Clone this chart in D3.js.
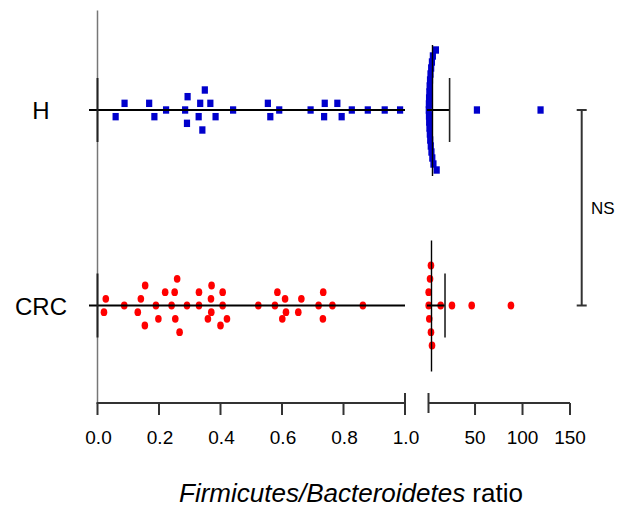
<!DOCTYPE html>
<html><head><meta charset="utf-8">
<script src="https://cdn.jsdelivr.net/npm/d3@7"></script>
<style>body{margin:0;background:#fff} text{font-family:Arial,"Liberation Sans",sans-serif;fill:#000}</style>
</head><body><svg id="c" width="632" height="515"></svg>
<script>
// ---- data ----
const categories = ["H", "CRC"];
// values in subject (data) order
const hValues = [0.088, 0.059, 0.168, 0.185, 0.223, 0.285, 0.293, 0.291, 0.334, 0.329, 0.349, 0.341,
  0.367, 0.384, 0.441, 0.554, 0.562, 0.591, 0.693, 0.739, 0.737, 0.780, 0.794, 0.827, 0.879, 0.934, 0.984,
  1.3, 1.4, 1.5, 1.6, 1.7, 1.9, 2.0, 2.2, 2.4, 2.6, 2.8, 3.1, 3.4, 3.8, 4.1, 4.6, 5.0, 5.6, 6.2, 8.8, 9.6,
  52, 119];
const crcValues = [0.027, 0.021, 0.087, 0.141, 0.131, 0.155, 0.154, 0.190, 0.220, 0.198,
  0.241, 0.251, 0.253, 0.259, 0.267, 0.291, 0.330, 0.330, 0.359, 0.369, 0.370, 0.371, 0.400,
  0.407, 0.407, 0.421, 0.523, 0.577, 0.585, 0.601, 0.610, 0.613, 0.663, 0.653, 0.719, 0.734, 0.733,
  0.764, 0.863,
  1.2, 1.2, 1.8, 2.6, 3.6, 3.6, 4.7, 13.8, 25.7, 46.5, 87.8];
const leftTicks = [0, 0.2, 0.4, 0.6, 0.8, 1.0];
const leftTickLabels = ["0.0", "0.2", "0.4", "0.6", "0.8", "1.0"];
const rightTicks = [50, 100, 150];
const rightTickLabels = ["50", "100", "150"];
const leftDomain = [0, 1];
const rightDomain = [1, 150];
const sigLabel = "NS";
const titleItalic = "Firmicutes/Bacteroidetes";
const titleRest = " ratio";

// ---- layout ----
const svg = d3.select("#c");
const xL = d3.scaleLinear().domain(leftDomain).range([97.5, 405]);
const xR = d3.scaleLinear().domain(rightDomain).range([428.5, 570]);
const y = d3.scalePoint().domain(categories).range([110, 305.5]);
const axisY = 403;
const groups = [
  {cat: "H", vals: hValues, color: "#0000CC", shape: "square"},
  {cat: "CRC", vals: crcValues, color: "#FF0000", shape: "circle"}
];

function swarm(vals, scale, cy) {
  const idx = vals.map((v, i) => i).sort((a, b) => vals[a] - vals[b] || a - b);
  const clusters = []; let cur = null;
  idx.forEach(i => {
    const px = scale(vals[i]);
    if (cur && px - cur.start < 9.8) cur.items.push(i);
    else { cur = {start: px, items: [i]}; clusters.push(cur); }
  });
  const out = [];
  clusters.forEach(c => {
    const items = c.items.slice().sort((a, b) => a - b);
    const n = items.length;
    const step = n > 1 ? Math.min(13.33, 120 / (n - 1)) : 13.33;
    items.forEach((i, k) => {
      let slot;
      if (n % 2 === 1) slot = k === 0 ? 0 : (k % 2 === 1 ? -Math.ceil(k / 2) : Math.ceil(k / 2));
      else { const m = Math.floor(k / 2); slot = k % 2 === 0 ? -(m + 0.5) : (m + 0.5); }
      out.push({v: vals[i], x: scale(vals[i]), y: cy + slot * step});
    });
  });
  return out;
}

// y axis line
svg.append("line").attr("x1", xL(0)).attr("x2", xL(0)).attr("y1", 10.5).attr("y2", axisY)
  .attr("stroke", "#777").attr("stroke-width", 1.5);

// points
groups.forEach(g => {
  const cy = y(g.cat);
  const pts = swarm(g.vals.filter(v => v <= 1), xL, cy).concat(swarm(g.vals.filter(v => v > 1), xR, cy));
  const sel = svg.append("g");
  if (g.shape === "square") {
    sel.selectAll("rect").data(pts).join("rect")
      .attr("x", d => d.x - 3.1).attr("y", d => d.y - 3.7).attr("width", 6.2).attr("height", 7.4)
      .attr("fill", g.color);
  } else {
    sel.selectAll("ellipse").data(pts).join("ellipse")
      .attr("cx", d => d.x).attr("cy", d => d.y).attr("rx", 3.3).attr("ry", 3.9)
      .attr("fill", g.color);
  }
});

// mean & SD
groups.forEach(g => {
  const cy = y(g.cat);
  const m = d3.mean(g.vals), sd = d3.deviation(g.vals);
  const lo = Math.max(0, m - sd), hi = m + sd;
  const ln = svg.append("g").attr("stroke", "#000");
  ln.append("line").attr("x1", xL(0) - 8.5).attr("x2", xL(0)).attr("y1", cy).attr("y2", cy).attr("stroke-width", 2);
  ln.append("line").attr("x1", xL(lo)).attr("x2", xL(1)).attr("y1", cy).attr("y2", cy).attr("stroke-width", 2);
  ln.append("line").attr("x1", xR(1) - 1.5).attr("x2", xR(hi)).attr("y1", cy).attr("y2", cy).attr("stroke-width", 2);
  ln.append("line").attr("x1", xL(lo)).attr("x2", xL(lo)).attr("y1", cy - 32).attr("y2", cy + 32).attr("stroke-width", 2).attr("stroke", "#222");
  ln.append("line").attr("x1", xR(hi)).attr("x2", xR(hi)).attr("y1", cy - 32).attr("y2", cy + 32).attr("stroke-width", 1.6).attr("stroke", "#222");
  ln.append("line").attr("x1", xR(m)).attr("x2", xR(m)).attr("y1", cy - 65).attr("y2", cy + 66).attr("stroke-width", 1.4);
});

// x axes (broken)
const ax = svg.append("g").attr("stroke", "#333").attr("stroke-width", 2);
ax.append("line").attr("x1", xL(0) - 1).attr("x2", xL(1)).attr("y1", axisY).attr("y2", axisY);
ax.append("line").attr("x1", xR(1)).attr("x2", xR(150)).attr("y1", axisY).attr("y2", axisY);
ax.selectAll(".tl").data(leftTicks).join("line")
  .attr("x1", d => xL(d)).attr("x2", d => xL(d)).attr("y1", (d, i) => i === leftTicks.length - 1 ? axisY - 10 : axisY).attr("y2", axisY + 12);
ax.selectAll(".tr").data(rightTicks).join("line")
  .attr("x1", d => xR(d)).attr("x2", d => xR(d)).attr("y1", axisY).attr("y2", axisY + 12);
ax.append("line").attr("x1", xR(1)).attr("x2", xR(1)).attr("y1", axisY - 10).attr("y2", axisY + 10);

svg.append("g").selectAll("text").data(leftTicks).join("text")
  .attr("x", d => xL(d) + 1).attr("y", 444).attr("text-anchor", "middle").attr("font-size", 19)
  .text((d, i) => leftTickLabels[i]);
svg.append("g").selectAll("text").data(rightTicks).join("text")
  .attr("x", d => xR(d)).attr("y", 444).attr("text-anchor", "middle").attr("font-size", 19)
  .text((d, i) => rightTickLabels[i]);

// category labels
svg.append("g").selectAll("text").data(categories).join("text")
  .attr("x", 41).attr("y", d => y(d) + 9).attr("text-anchor", "middle").attr("font-size", 24)
  .text(d => d);

// significance bracket
const bx = 581.7;
const br = svg.append("g").attr("stroke", "#333").attr("stroke-width", 2);
br.append("line").attr("x1", bx).attr("x2", bx).attr("y1", y("H")).attr("y2", y("CRC"));
br.append("line").attr("x1", bx - 5).attr("x2", bx + 5).attr("y1", y("H")).attr("y2", y("H"));
br.append("line").attr("x1", bx - 5).attr("x2", bx + 5).attr("y1", y("CRC")).attr("y2", y("CRC"));
svg.append("text").attr("x", 591).attr("y", (y("H") + y("CRC")) / 2 + 6).attr("font-size", 17).text(sigLabel);

// title
const t = svg.append("text").attr("x", 351).attr("y", 502).attr("text-anchor", "middle").attr("font-size", 26);
t.append("tspan").attr("font-style", "italic").text(titleItalic);
t.append("tspan").text(titleRest);
</script></body></html>
